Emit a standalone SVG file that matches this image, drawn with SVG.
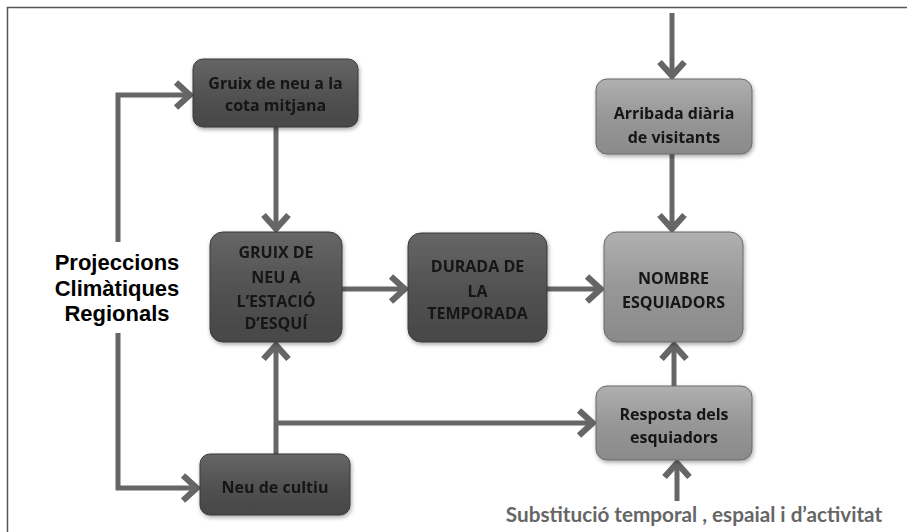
<svg xmlns="http://www.w3.org/2000/svg" width="907" height="532" viewBox="0 0 907 532">
<style>
.node-dark rect{fill:url(#gDark);stroke:#3a3a3a;stroke-width:1}
.node-light rect{fill:url(#gLight);stroke:#6a6a6a;stroke-width:1}
.nt{font-family:"Open Sans","Liberation Sans",sans-serif;font-weight:bold;font-size:16px;fill:#141414;text-anchor:middle}
.conn path{fill:none;stroke:#666;stroke-width:5;marker-end:url(#arr)}
.big{font-family:"Liberation Sans",Arial,sans-serif;font-weight:bold;font-size:22px;fill:#000;text-anchor:middle}
.sub{font-family:Lato,"Liberation Sans",sans-serif;font-weight:bold;font-size:20.7px;fill:#666;text-anchor:middle}
</style>
<defs>
<linearGradient id="gDark" x1="0" y1="0" x2="0" y2="1">
<stop offset="0" stop-color="#666"/><stop offset="0.5" stop-color="#525252"/><stop offset="1" stop-color="#474747"/>
</linearGradient>
<linearGradient id="gLight" x1="0" y1="0" x2="0" y2="1">
<stop offset="0" stop-color="#b0b0b0"/><stop offset="0.5" stop-color="#979797"/><stop offset="1" stop-color="#8a8a8a"/>
</linearGradient>
<filter id="sh" x="-10%" y="-10%" width="125%" height="130%">
<feDropShadow dx="1" dy="2" stdDeviation="2" flood-color="#000" flood-opacity="0.35"/>
</filter>
<marker id="arr" markerUnits="userSpaceOnUse" markerWidth="30" markerHeight="30" viewBox="-16 -12 20 24" refX="0" refY="0" orient="auto">
<path d="M-12,-10 L-1,0 L-12,10" fill="none" stroke="#666" stroke-width="5" stroke-linejoin="miter"/>
</marker>
</defs>
<rect x="0" y="0" width="907" height="532" fill="#fff"/>
<path d="M7.5,532 V7.5 H907" fill="none" stroke="#555" stroke-width="1.5"/>

<g id="projeccions">
<text class="big" x="117" y="270">Projeccions</text>
<text class="big" x="117" y="296">Climàtiques</text>
<text class="big" x="117" y="321">Regionals</text>
</g>

<g class="conn" id="connectors">
<path d="M118,242 V95 H191"/>
<path d="M118,333 V488 H198"/>
<path d="M276,127 V230"/>
<path d="M276,454 V344"/>
<path d="M276,423 H594"/>
<path d="M342,289 H406"/>
<path d="M547,289 H602"/>
<path d="M672,13 V77"/>
<path d="M672,154 V230"/>
<path d="M674,386 V344"/>
<path d="M677,501 V462"/>
</g>

<g id="n-cota" class="node-dark" filter="url(#sh)">
<rect x="193" y="59" width="165" height="68" rx="10"/>
<text class="nt" x="275.5" y="89">Gruix de neu a la</text>
<text class="nt" x="275.5" y="111">cota mitjana</text>
</g>
<g id="n-estacio" class="node-dark" filter="url(#sh)">
<rect x="210" y="232" width="132" height="110" rx="13"/>
<text class="nt" x="276" y="258">GRUIX DE</text>
<text class="nt" x="276" y="283">NEU A</text>
<text class="nt" x="276" y="307">L’ESTACIÓ</text>
<text class="nt" x="276" y="329">D’ESQUÍ</text>
</g>
<g id="n-durada" class="node-dark" filter="url(#sh)">
<rect x="408" y="233" width="139" height="109" rx="13"/>
<text class="nt" x="477.5" y="272">DURADA DE</text>
<text class="nt" x="477.5" y="297">LA</text>
<text class="nt" x="477.5" y="319">TEMPORADA</text>
</g>
<g id="n-nombre" class="node-light" filter="url(#sh)">
<rect x="604" y="232" width="139" height="110" rx="13"/>
<text class="nt" x="673.5" y="284">NOMBRE</text>
<text class="nt" x="673.5" y="308">ESQUIADORS</text>
</g>
<g id="n-arribada" class="node-light" filter="url(#sh)">
<rect x="596" y="79" width="156" height="75" rx="11"/>
<text class="nt" x="674" y="119">Arribada diària</text>
<text class="nt" x="674" y="143">de visitants</text>
</g>
<g id="n-resposta" class="node-light" filter="url(#sh)">
<rect x="596" y="386" width="156" height="74" rx="11"/>
<text class="nt" x="674" y="420">Resposta dels</text>
<text class="nt" x="674" y="443">esquiadors</text>
</g>
<g id="n-cultiu" class="node-dark" filter="url(#sh)">
<rect x="200" y="454" width="150" height="61" rx="10"/>
<text class="nt" x="275" y="493">Neu de cultiu</text>
</g>

<g id="substitucio">
<text class="sub" x="694" y="522">Substitució temporal , espaial i d’activitat</text>
</g>
</svg>
